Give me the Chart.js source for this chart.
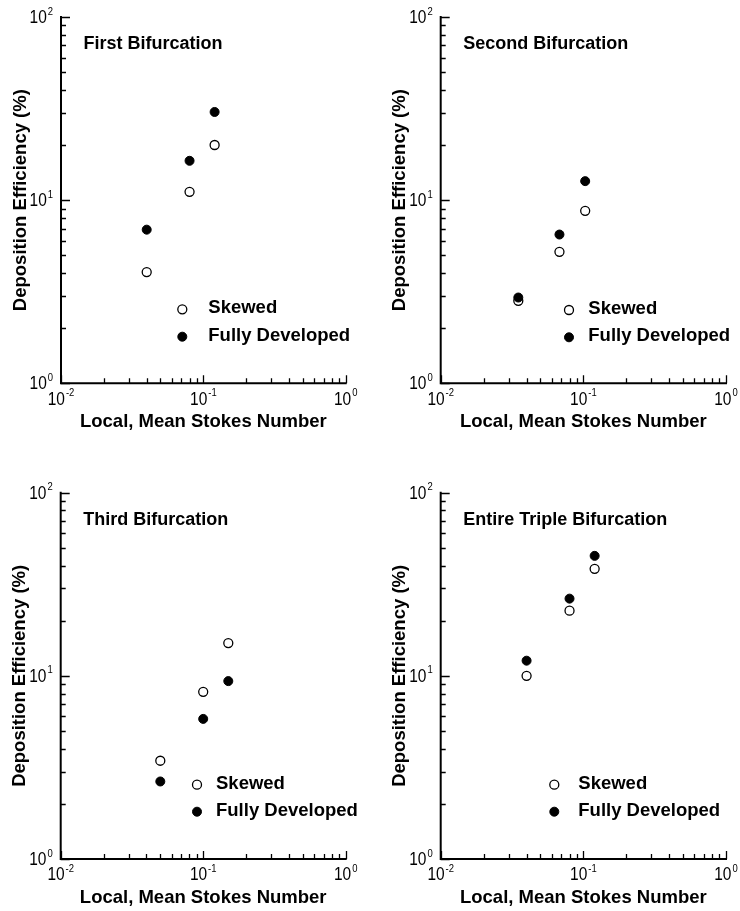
<!DOCTYPE html>
<html>
<head>
<meta charset="utf-8">
<title>Deposition Efficiency vs Stokes Number</title>
<script src="https://cdn.jsdelivr.net/npm/chart.js@4.4.1/dist/chart.umd.min.js"></script>
<style>
  body { margin: 0; background: #fff; }
  .panel { position: absolute; }
</style>
</head>
<body>
<div class="panel" style="left:0;top:0"><canvas id="c1" width="370" height="455"></canvas></div>
<div class="panel" style="left:370px;top:0"><canvas id="c2" width="370" height="455"></canvas></div>
<div class="panel" style="left:0;top:455px"><canvas id="c3" width="370" height="456"></canvas></div>
<div class="panel" style="left:370px;top:455px"><canvas id="c4" width="370" height="456"></canvas></div>
<script>
// data (log-log axes)
const seriesNames = ["Skewed", "Fully Developed"];
const panelTitles = ["First Bifurcation", "Second Bifurcation", "Third Bifurcation", "Entire Triple Bifurcation"];
const xTitle = "Local, Mean Stokes Number";
const yTitle = "Deposition Efficiency (%)";
const xTickExponents = [-2, -1, 0];
const yTickExponents = [0, 1, 2];

const stokesFirst = [0.04, 0.08, 0.12];
const skewedFirst = [4.05, 11.1, 20.0];
const fullyFirst = [6.9, 16.4, 30.3];

const stokesSecond = [0.035, 0.068, 0.103];
const skewedSecond = [2.82, 5.22, 8.74];
const fullySecond = [2.94, 6.49, 12.7];

const stokesThird = [0.05, 0.10, 0.15];
const skewedThird = [3.44, 8.18, 15.1];
const fullyThird = [2.65, 5.82, 9.36];

const stokesEntire = [0.04, 0.08, 0.12];
const skewedEntire = [10.0, 22.7, 38.4];
const fullyEntire = [12.1, 26.4, 45.2];

// layout per panel: chart-area padding and legend placement (relative to chart area)
const layouts = [
  { pad: { left: 61, top: 17, right: 24.3, bottom: 71.7 }, legMark: 121.3, legText: 147.3, legRows: [-74, -46.6] },
  { pad: { left: 70.7, top: 17, right: 14, bottom: 71.7 }, legMark: 128.3, legText: 147.6, legRows: [-73.3, -46] },
  { pad: { left: 60.7, top: 37.7, right: 24.3, bottom: 52 }, legMark: 136.3, legText: 155.3, legRows: [-74.3, -47.3] },
  { pad: { left: 70.7, top: 37.7, right: 14, bottom: 52 }, legMark: 113.6, legText: 137.6, legRows: [-74.3, -47.3] },
];

const FONT = '"Liberation Sans", Arial, Helvetica, sans-serif';
const NARROW = 0.86; // tick numerals in the original are a bit condensed

function xy(xs, ys) {
  return xs.map((x, i) => ({ x, y: ys[i] }));
}

function drawCircle(ctx, x, y, filled) {
  ctx.beginPath();
  ctx.arc(x, y, 4.5, 0, Math.PI * 2);
  ctx.fillStyle = filled ? "#000" : "#fff";
  ctx.fill();
  ctx.lineWidth = filled ? 1 : 1.3;
  ctx.strokeStyle = "#000";
  ctx.stroke();
}

// power-of-ten label: "10" plus a raised exponent
function powerLabel(ctx, exp, x, y, align) {
  const sup = String(exp);
  ctx.font = `18px ${FONT}`;
  const w10 = ctx.measureText("10").width * NARROW;
  ctx.font = `11px ${FONT}`;
  const wSup = ctx.measureText(sup).width * NARROW;
  const total = w10 + wSup + 1;
  const x0 = align === "right" ? x - total : x - total / 2;
  ctx.save();
  ctx.fillStyle = "#000";
  ctx.textAlign = "left";
  ctx.textBaseline = "middle";
  ctx.translate(x0, y);
  ctx.scale(NARROW, 1);
  ctx.font = `18px ${FONT}`;
  ctx.fillText("10", 0, 0);
  ctx.font = `11px ${FONT}`;
  ctx.fillText(sup, (w10 + 1) / NARROW, -6.5);
  ctx.restore();
}

const framePlugin = {
  id: "frame",
  afterDraw(chart, args, opts) {
    const { ctx, chartArea: a } = chart;
    const xs = chart.scales.x, ys = chart.scales.y;
    const lay = opts.layout;
    ctx.save();

    // axis lines (left and bottom only)
    ctx.strokeStyle = "#000";
    ctx.lineWidth = 2;
    ctx.beginPath();
    ctx.moveTo(a.left, a.top - 1);
    ctx.lineTo(a.left, a.bottom);
    ctx.lineTo(a.right + 1, a.bottom);
    ctx.stroke();

    // inward ticks, major at decades, minor at 2..9
    ctx.lineWidth = 1.3;
    ctx.beginPath();
    for (let e = -2; e <= 0; e++) {
      for (let m = 1; m <= 9; m++) {
        const v = m * Math.pow(10, e);
        if (v > 1.0001) break;
        const px = Math.round(xs.getPixelForValue(v)) + 0.5;
        const len = m === 1 ? 8 : 5;
        ctx.moveTo(px, a.bottom);
        ctx.lineTo(px, a.bottom - len);
      }
    }
    for (let e = 0; e <= 2; e++) {
      for (let m = 1; m <= 9; m++) {
        const v = m * Math.pow(10, e);
        if (v > 100.001) break;
        const py = Math.round(ys.getPixelForValue(v)) + 0.5;
        const len = m === 1 ? 9 : 5;
        ctx.moveTo(a.left, py);
        ctx.lineTo(a.left + len, py);
      }
    }
    ctx.stroke();

    // tick labels
    xTickExponents.forEach(e => {
      powerLabel(ctx, e, xs.getPixelForValue(Math.pow(10, e)), a.bottom + 16.5, "center");
    });
    yTickExponents.forEach(e => {
      powerLabel(ctx, e, a.left - 8, ys.getPixelForValue(Math.pow(10, e)) + 1, "right");
    });

    // axis titles
    ctx.fillStyle = "#000";
    ctx.font = `bold 18.5px ${FONT}`;
    ctx.textAlign = "center";
    ctx.textBaseline = "middle";
    ctx.fillText(xTitle, (a.left + a.right) / 2, a.bottom + 39);
    ctx.save();
    ctx.translate(a.left - 40.5, (a.top + a.bottom) / 2);
    ctx.rotate(-Math.PI / 2);
    ctx.fillText(yTitle, 0, 0);
    ctx.restore();

    // panel title
    ctx.font = `bold 18px ${FONT}`;
    ctx.textAlign = "left";
    ctx.fillText(opts.title, a.left + 22.6, a.top + 27);

    // legend
    ctx.font = `bold 18.5px ${FONT}`;
    seriesNames.forEach((name, i) => {
      const y = a.bottom + lay.legRows[i];
      drawCircle(ctx, a.left + lay.legMark, y, i === 1);
      ctx.fillStyle = "#000";
      ctx.fillText(name, a.left + lay.legText, y - 1);
    });

    ctx.restore();
  },
};

function makePanel(id, idx, stokes, skewed, fully) {
  const lay = layouts[idx];
  new Chart(document.getElementById(id), {
    type: "scatter",
    data: {
      datasets: [
        {
          label: seriesNames[0], data: xy(stokes, skewed), order: 1,
          pointStyle: "circle", pointRadius: 4.5, pointBorderWidth: 1.3,
          pointBorderColor: "#000", pointBackgroundColor: "#fff",
        },
        {
          label: seriesNames[1], data: xy(stokes, fully), order: 0,
          pointStyle: "circle", pointRadius: 4.5, pointBorderWidth: 1,
          pointBorderColor: "#000", pointBackgroundColor: "#000",
        },
      ],
    },
    options: {
      responsive: false,
      animation: false,
      layout: { padding: lay.pad },
      plugins: {
        legend: { display: false },
        tooltip: { enabled: false },
        frame: { title: panelTitles[idx], layout: lay },
      },
      scales: {
        x: { type: "logarithmic", min: 0.01, max: 1, display: false },
        y: { type: "logarithmic", min: 1, max: 100, display: false },
      },
    },
    plugins: [framePlugin],
  });
}

makePanel("c1", 0, stokesFirst, skewedFirst, fullyFirst);
makePanel("c2", 1, stokesSecond, skewedSecond, fullySecond);
makePanel("c3", 2, stokesThird, skewedThird, fullyThird);
makePanel("c4", 3, stokesEntire, skewedEntire, fullyEntire);
</script>
</body>
</html>
